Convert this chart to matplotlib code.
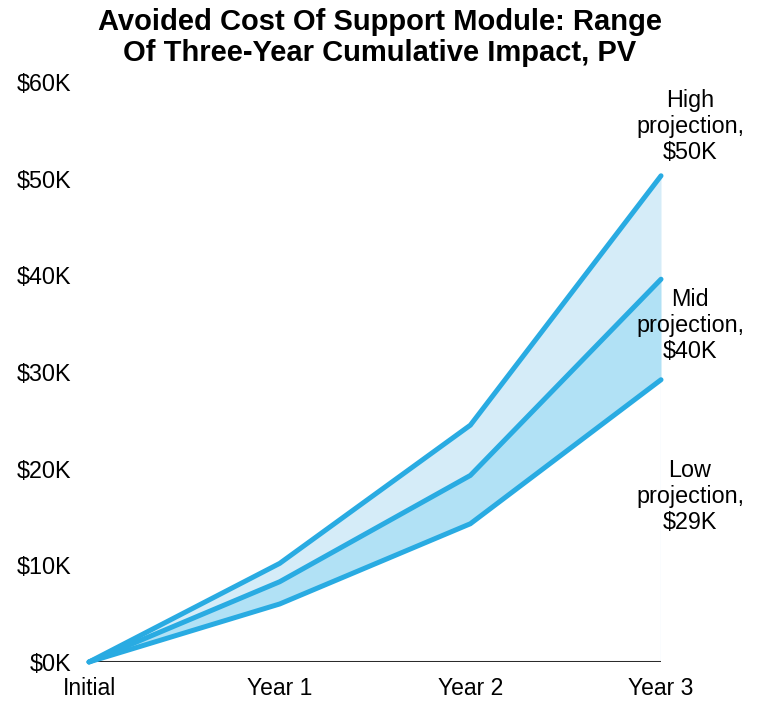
import matplotlib
matplotlib.use("Agg")
import matplotlib.pyplot as plt

plt.rcParams['font.family'] = ['Liberation Sans', 'DejaVu Sans']

# Data (thousands of dollars)
periods = ["Initial", "Year 1", "Year 2", "Year 3"]
high = [0, 10.2, 24.5, 50.3]
mid = [0, 8.3, 19.3, 39.6]
low = [0, 6.0, 14.3, 29.2]
yticks = [0, 10, 20, 30, 40, 50, 60]
end_labels = ["High\nprojection,\n$50K", "Mid\nprojection,\n$40K", "Low\nprojection,\n$29K"]
label_y = [55.4, 34.8, 17.1]

line_c = "#29abe2"

fig = plt.figure(figsize=(7.59, 7.04), dpi=100)
ax = fig.add_axes([0.1173, 0.0597, 0.7536, 0.8238])

x = list(range(len(periods)))
ax.fill_between(x, mid, high, color="#d5ecf8", lw=0)
ax.fill_between(x, low, mid, color="#b1e1f5", lw=0)
ax.plot([x[-1], x[-1]], [0, low[-1]], color="#e6f4fb", lw=1, zorder=1)

for s in (high, mid, low):
    ax.plot(x, s, color=line_c, lw=3.6, solid_capstyle="round",
            solid_joinstyle="miter", clip_on=False, zorder=3)

ax.axhline(0, color="#2b2b2b", lw=2.2, zorder=2)

ax.set_xlim(0, 3)
ax.set_ylim(0, 60)
ax.set_xticks(x)
ax.set_xticklabels(periods, fontsize=16.5)
ax.set_yticks(yticks)
ax.set_yticklabels([f"${v}K" for v in yticks], fontsize=16.8)
ax.tick_params(axis="both", length=0)
ax.tick_params(axis="y", pad=13)
ax.tick_params(axis="x", pad=11)
for sp in ax.spines.values():
    sp.set_visible(False)

for txt, yy in zip(end_labels, label_y):
    ax.text(3.152, yy, txt, ha="center", va="center", fontsize=16.8,
            linespacing=1.15, clip_on=False)

fig.text(0.5, 0.947, "Avoided Cost Of Support Module: Range\nOf Three-Year Cumulative Impact, PV",
         ha="center", va="center", fontsize=21, fontweight="bold", linespacing=1.15)

fig.savefig("out.png", dpi=100)
